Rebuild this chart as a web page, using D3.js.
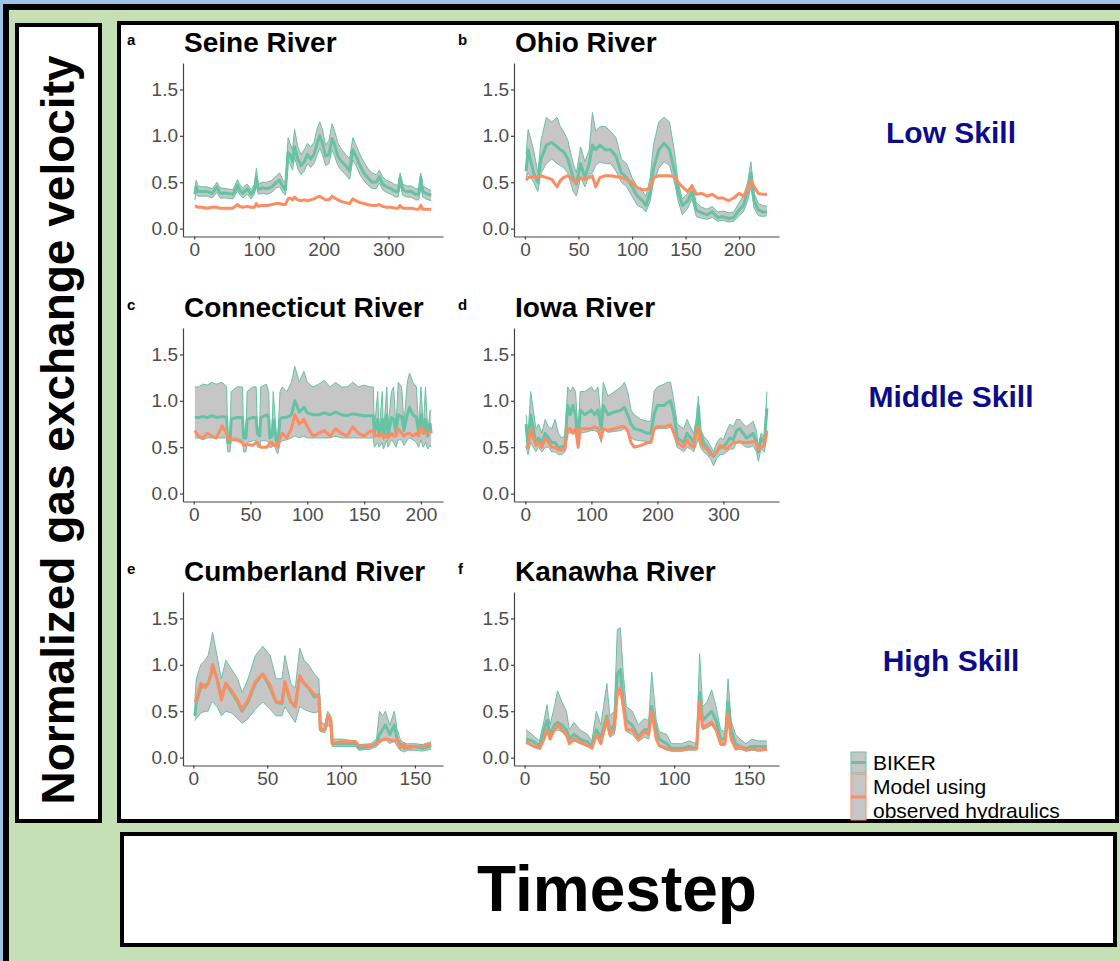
<!DOCTYPE html>
<html>
<head>
<meta charset="utf-8">
<script src="https://cdn.jsdelivr.net/npm/d3@7"></script>
<style>
    body { margin: 0; background: #9dc3e6; }
    svg { display: block; }
</style>
</head>
<body>
<div id="figure"></div>
<script>
'use strict';

// ---- data ----
const rivers = ['Seine River', 'Ohio River', 'Connecticut River', 'Iowa River', 'Cumberland River', 'Kanawha River'];
const tags = ['a', 'b', 'c', 'd', 'e', 'f'];
const skills = ['Low Skill', 'Middle Skill', 'High Skill'];
const legendLabels = ['BIKER', 'Model using', 'observed hydraulics'];
const yTicks = [0, 0.5, 1.0, 1.5];
const xTicks = [
    [0, 100, 200, 300],
    [0, 50, 100, 150, 200],
    [0, 50, 100, 150, 200],
    [0, 100, 200, 300],
    [0, 50, 100, 150],
    [0, 50, 100, 150]
];

// Seine
const seineT = [1,3,6,12,20,28,35,40,50,60,67,70,75,82,88,93,96,99,105,112,120,127,132,137,141,145,148,152,155,160,165,170,175,180,185,190,194,198,203,208,213,217,222,228,234,240,245,250,256,262,268,275,281,286,291,297,304,311,315,318,322,328,335,342,347,350,353,358,366];
const seineMid = [0.37,0.45,0.4,0.4,0.4,0.38,0.45,0.38,0.38,0.37,0.47,0.42,0.38,0.43,0.37,0.42,0.55,0.42,0.44,0.43,0.45,0.5,0.52,0.45,0.42,0.82,0.8,0.72,0.88,0.75,0.68,0.72,0.8,0.75,0.8,0.92,1.0,0.92,0.78,0.8,0.97,0.9,0.78,0.72,0.68,0.62,0.85,0.78,0.68,0.6,0.55,0.5,0.5,0.56,0.48,0.45,0.43,0.4,0.4,0.55,0.42,0.4,0.4,0.37,0.37,0.55,0.4,0.38,0.36];
const seineHi = [0.43,0.52,0.46,0.45,0.45,0.43,0.5,0.44,0.43,0.42,0.53,0.48,0.44,0.48,0.42,0.47,0.65,0.48,0.5,0.5,0.52,0.57,0.6,0.52,0.5,0.98,0.92,0.85,1.07,0.88,0.8,0.85,0.92,0.88,0.93,1.08,1.15,1.07,0.9,0.95,1.13,1.05,0.92,0.85,0.8,0.75,0.98,0.9,0.8,0.72,0.65,0.6,0.58,0.63,0.56,0.52,0.5,0.47,0.47,0.6,0.48,0.46,0.46,0.43,0.43,0.6,0.46,0.44,0.41];
const seineLo = [0.31,0.37,0.35,0.35,0.35,0.33,0.39,0.33,0.33,0.32,0.41,0.37,0.33,0.37,0.32,0.37,0.47,0.37,0.38,0.37,0.39,0.44,0.45,0.39,0.36,0.72,0.7,0.63,0.77,0.65,0.58,0.62,0.7,0.66,0.7,0.8,0.87,0.8,0.68,0.7,0.85,0.78,0.68,0.62,0.58,0.53,0.74,0.68,0.58,0.52,0.47,0.43,0.43,0.49,0.42,0.39,0.37,0.34,0.34,0.48,0.36,0.34,0.34,0.31,0.31,0.48,0.34,0.32,0.3];
const seineModel = [0.24,0.24,0.23,0.23,0.22,0.23,0.23,0.22,0.22,0.22,0.26,0.24,0.23,0.24,0.23,0.23,0.27,0.24,0.25,0.25,0.26,0.27,0.27,0.26,0.26,0.32,0.33,0.31,0.34,0.31,0.3,0.31,0.3,0.31,0.32,0.34,0.35,0.33,0.31,0.31,0.35,0.33,0.31,0.29,0.28,0.27,0.32,0.3,0.28,0.27,0.26,0.25,0.25,0.26,0.24,0.23,0.23,0.22,0.22,0.25,0.22,0.22,0.22,0.21,0.21,0.25,0.21,0.21,0.21];

// Ohio
const ohioT = [1,3,8,12,15,20,25,30,33,36,40,45,48,52,56,60,63,66,70,75,80,85,90,95,100,105,110,113,117,120,125,130,135,140,143,147,152,156,160,165,170,175,180,185,190,195,200,204,208,211,214,218,222,226];
const ohioMid = [0.62,0.85,0.6,0.5,0.75,0.9,0.93,0.88,0.85,0.83,0.75,0.55,0.48,0.7,0.55,0.7,0.9,0.85,0.9,0.85,0.85,0.78,0.6,0.55,0.45,0.35,0.3,0.25,0.4,0.65,0.85,0.92,0.85,0.6,0.4,0.25,0.3,0.4,0.2,0.17,0.15,0.18,0.12,0.13,0.11,0.12,0.2,0.25,0.4,0.6,0.3,0.2,0.18,0.18];
const ohioHi = [0.8,1.07,0.85,0.6,0.95,1.2,1.15,1.2,1.1,1.05,0.95,0.7,0.6,0.88,0.72,0.85,1.25,1.05,1.1,1.1,1.05,0.98,0.75,0.7,0.55,0.45,0.4,0.35,0.55,0.9,1.15,1.2,1.15,0.8,0.5,0.32,0.38,0.48,0.28,0.23,0.21,0.24,0.18,0.19,0.17,0.18,0.28,0.35,0.5,0.72,0.38,0.27,0.25,0.24];
const ohioLo = [0.55,0.6,0.5,0.4,0.6,0.7,0.75,0.7,0.68,0.66,0.6,0.4,0.35,0.55,0.45,0.58,0.6,0.68,0.72,0.7,0.7,0.62,0.5,0.45,0.35,0.25,0.22,0.18,0.3,0.5,0.65,0.72,0.68,0.48,0.3,0.15,0.22,0.32,0.13,0.11,0.1,0.12,0.08,0.09,0.07,0.08,0.14,0.18,0.3,0.45,0.22,0.14,0.13,0.14];
const ohioModel = [0.52,0.55,0.56,0.55,0.57,0.55,0.53,0.45,0.52,0.55,0.57,0.52,0.5,0.55,0.53,0.55,0.57,0.45,0.55,0.57,0.57,0.56,0.55,0.53,0.5,0.44,0.42,0.42,0.44,0.55,0.57,0.57,0.57,0.56,0.5,0.45,0.4,0.46,0.37,0.38,0.35,0.37,0.33,0.33,0.3,0.33,0.38,0.35,0.42,0.52,0.45,0.38,0.37,0.37];

// Connecticut
const connT = [1,4,8,12,16,20,25,29,30,32,33,38,43,44,46,47,52,55,56,58,59,64,66,67,69,70,73,74,76,78,82,86,89,93,97,100,105,110,115,120,125,130,135,140,145,150,155,158,159,162,163,166,167,170,171,174,176,178,180,183,185,188,190,193,196,198,200,202,204,206,208,209];
const connLo = [0.6,0.6,0.58,0.6,0.6,0.6,0.6,0.6,0.45,0.45,0.6,0.6,0.57,0.45,0.45,0.55,0.57,0.57,0.5,0.5,0.57,0.57,0.55,0.5,0.5,0.55,0.45,0.43,0.55,0.57,0.58,0.6,0.62,0.6,0.62,0.6,0.6,0.6,0.6,0.6,0.62,0.6,0.6,0.6,0.6,0.6,0.6,0.6,0.5,0.55,0.5,0.55,0.48,0.58,0.5,0.58,0.55,0.5,0.58,0.58,0.52,0.58,0.6,0.58,0.55,0.5,0.58,0.5,0.55,0.48,0.52,0.5];
const connMid = [0.82,0.82,0.83,0.82,0.84,0.82,0.83,0.82,0.55,0.55,0.8,0.82,0.82,0.6,0.6,0.8,0.82,0.82,0.65,0.62,0.82,0.85,0.82,0.6,0.62,0.8,0.55,0.52,0.8,0.82,0.82,0.85,1.0,0.88,0.93,0.87,0.85,0.85,0.87,0.85,0.88,0.85,0.84,0.86,0.85,0.84,0.84,0.84,0.65,0.8,0.62,0.8,0.6,0.85,0.62,0.82,0.8,0.65,0.85,0.83,0.68,0.85,0.93,0.85,0.82,0.65,0.85,0.65,0.8,0.62,0.75,0.65];
const connHi = [1.15,1.15,1.18,1.17,1.2,1.18,1.2,1.15,0.6,0.6,1.1,1.15,1.15,0.62,0.62,1.1,1.15,1.15,0.7,0.7,1.15,1.18,1.1,0.65,0.7,1.1,0.6,0.6,1.1,1.15,1.1,1.2,1.37,1.2,1.32,1.2,1.15,1.18,1.22,1.15,1.2,1.15,1.15,1.2,1.15,1.17,1.15,1.15,0.7,1.1,0.65,1.1,0.65,1.15,0.7,1.1,1.15,0.7,1.2,1.15,0.75,1.2,1.3,1.2,1.15,0.7,1.15,0.7,1.15,0.65,0.9,0.9];
const connModel = [0.68,0.62,0.6,0.65,0.62,0.6,0.73,0.65,0.6,0.58,0.58,0.58,0.55,0.52,0.52,0.53,0.52,0.55,0.55,0.52,0.5,0.5,0.52,0.55,0.55,0.52,0.52,0.5,0.6,0.65,0.6,0.7,0.85,0.75,0.8,0.72,0.62,0.65,0.68,0.62,0.7,0.65,0.62,0.72,0.65,0.62,0.67,0.68,0.62,0.63,0.62,0.65,0.6,0.63,0.6,0.65,0.62,0.62,0.7,0.65,0.62,0.65,0.65,0.62,0.65,0.62,0.72,0.68,0.65,0.65,0.67,0.66];

// Iowa
const iowaT = [1,4,8,12,16,20,25,30,35,40,45,50,55,60,64,68,72,76,80,83,90,100,105,110,115,118,125,135,145,150,155,160,165,175,185,190,195,200,210,215,220,225,230,240,245,250,255,260,262,265,270,275,280,285,290,295,300,305,310,315,320,325,330,335,340,345,350,353,357,362,366];
const iowaLo = [0.5,0.42,0.55,0.5,0.45,0.5,0.45,0.5,0.5,0.45,0.45,0.42,0.42,0.45,0.65,0.65,0.68,0.66,0.5,0.65,0.66,0.68,0.68,0.66,0.55,0.7,0.66,0.67,0.68,0.7,0.66,0.6,0.58,0.57,0.56,0.56,0.68,0.7,0.7,0.7,0.72,0.65,0.5,0.45,0.5,0.48,0.45,0.55,0.6,0.5,0.45,0.42,0.38,0.3,0.38,0.42,0.42,0.45,0.48,0.48,0.55,0.55,0.52,0.5,0.5,0.52,0.45,0.35,0.48,0.45,0.65];
const iowaMid = [0.75,0.5,0.85,0.7,0.55,0.6,0.55,0.65,0.6,0.55,0.55,0.5,0.5,0.52,0.95,0.85,0.95,0.85,0.55,0.9,0.85,0.9,0.85,0.9,0.7,0.95,0.85,0.88,0.9,0.93,0.85,0.75,0.7,0.68,0.65,0.65,0.85,0.95,0.95,0.98,1.0,0.85,0.6,0.55,0.65,0.6,0.55,0.75,0.95,0.65,0.55,0.5,0.45,0.4,0.45,0.5,0.5,0.55,0.6,0.58,0.68,0.7,0.65,0.6,0.62,0.65,0.55,0.45,0.6,0.55,0.92];
const iowaHi = [0.85,0.6,1.1,0.9,0.7,0.75,0.65,0.8,0.72,0.7,0.8,0.65,0.6,0.62,1.15,1.1,1.15,1.1,0.6,1.1,1.1,1.15,1.1,1.15,0.8,1.2,1.05,1.1,1.15,1.2,1.1,0.9,0.85,0.8,0.78,0.78,1.1,1.15,1.18,1.2,1.2,1.0,0.75,0.7,0.8,0.72,0.65,0.85,1.05,0.7,0.62,0.58,0.52,0.45,0.55,0.6,0.58,0.68,0.75,0.72,0.8,0.8,0.75,0.72,0.75,0.78,0.68,0.5,0.65,0.62,1.1];
const iowaModel = [0.52,0.5,0.7,0.6,0.52,0.55,0.5,0.6,0.55,0.5,0.5,0.47,0.47,0.48,0.7,0.7,0.65,0.7,0.5,0.7,0.7,0.7,0.72,0.7,0.6,0.7,0.68,0.7,0.72,0.72,0.68,0.55,0.5,0.52,0.55,0.55,0.7,0.72,0.72,0.73,0.74,0.65,0.55,0.5,0.58,0.52,0.5,0.7,0.72,0.55,0.5,0.48,0.42,0.42,0.45,0.52,0.5,0.48,0.52,0.55,0.55,0.56,0.55,0.55,0.55,0.56,0.55,0.47,0.5,0.52,0.68];

// Cumberland
const cumbT = [1,2,5,8,10,12,13,16,19,22,26,30,33,37,42,47,52,56,60,62,66,69,72,75,78,82,85,86,89,91,93,94,100,105,110,112,120,124,126,128,130,133,136,138,140,143,145,150,155,161];
const cumbLo = [0.4,0.42,0.48,0.5,0.5,0.58,0.6,0.55,0.45,0.5,0.48,0.42,0.37,0.42,0.52,0.6,0.52,0.45,0.45,0.55,0.45,0.38,0.55,0.52,0.5,0.48,0.5,0.28,0.27,0.35,0.33,0.12,0.12,0.12,0.12,0.08,0.09,0.12,0.15,0.18,0.2,0.15,0.18,0.12,0.08,0.06,0.08,0.08,0.07,0.09];
const cumbMid = [0.45,0.6,0.75,0.78,0.8,0.9,1.0,0.85,0.65,0.8,0.7,0.6,0.5,0.6,0.8,0.9,0.75,0.6,0.58,0.8,0.6,0.55,0.88,0.8,0.75,0.65,0.68,0.3,0.3,0.45,0.4,0.15,0.15,0.15,0.15,0.1,0.12,0.15,0.25,0.3,0.35,0.25,0.35,0.2,0.15,0.1,0.12,0.12,0.1,0.13];
const cumbHi = [0.6,0.85,1.0,1.05,1.1,1.25,1.35,1.1,0.85,1.05,0.95,0.85,0.7,0.85,1.1,1.2,1.1,0.85,0.85,1.1,0.8,0.75,1.18,1.05,1.0,0.9,0.85,0.4,0.35,0.5,0.45,0.2,0.2,0.19,0.18,0.14,0.15,0.2,0.5,0.45,0.5,0.35,0.5,0.3,0.2,0.15,0.15,0.15,0.14,0.17];
const cumbModel = [0.6,0.62,0.8,0.75,0.8,0.9,1.0,0.85,0.62,0.8,0.72,0.62,0.52,0.62,0.82,0.9,0.78,0.6,0.6,0.82,0.6,0.55,0.88,0.8,0.75,0.68,0.65,0.3,0.3,0.45,0.42,0.15,0.17,0.17,0.17,0.12,0.13,0.15,0.18,0.19,0.2,0.19,0.18,0.2,0.1,0.15,0.1,0.12,0.12,0.15];

// Kanawha
const kanT = [1,5,10,13,15,17,20,22,25,28,30,33,37,42,45,48,51,55,57,60,62,64,66,68,72,76,80,83,85,88,90,95,98,100,105,110,115,117,119,122,125,128,131,134,136,138,141,144,148,152,156,162];
const kanLo = [0.15,0.13,0.1,0.2,0.28,0.2,0.28,0.3,0.28,0.22,0.15,0.18,0.15,0.12,0.1,0.22,0.15,0.35,0.22,0.25,0.65,0.7,0.5,0.28,0.25,0.17,0.22,0.2,0.45,0.2,0.12,0.08,0.07,0.07,0.07,0.08,0.08,0.55,0.3,0.32,0.35,0.28,0.13,0.13,0.42,0.2,0.08,0.09,0.07,0.08,0.07,0.08];
const kanMid = [0.2,0.18,0.13,0.3,0.4,0.25,0.35,0.38,0.35,0.3,0.2,0.25,0.2,0.17,0.13,0.3,0.22,0.45,0.3,0.35,0.9,0.95,0.6,0.4,0.35,0.22,0.3,0.3,0.55,0.3,0.2,0.15,0.1,0.1,0.1,0.12,0.1,0.7,0.4,0.45,0.5,0.4,0.2,0.2,0.6,0.3,0.15,0.12,0.1,0.12,0.12,0.12];
const kanHi = [0.3,0.25,0.18,0.4,0.57,0.35,0.55,0.72,0.6,0.5,0.3,0.38,0.3,0.25,0.18,0.5,0.35,0.8,0.45,0.5,1.38,1.4,0.9,0.55,0.5,0.35,0.42,0.4,0.92,0.4,0.28,0.25,0.15,0.15,0.15,0.18,0.15,1.12,0.55,0.6,0.73,0.55,0.3,0.28,0.85,0.4,0.25,0.2,0.15,0.2,0.18,0.18];
const kanModel = [0.17,0.13,0.1,0.2,0.3,0.2,0.3,0.35,0.3,0.25,0.15,0.2,0.17,0.13,0.1,0.25,0.15,0.42,0.25,0.3,0.7,0.75,0.55,0.3,0.3,0.2,0.28,0.25,0.5,0.2,0.13,0.1,0.08,0.08,0.08,0.1,0.1,0.6,0.32,0.35,0.38,0.3,0.15,0.15,0.48,0.2,0.1,0.12,0.08,0.1,0.08,0.09];

(function () {
    const width = 1120;
    const height = 961;
    const green = '#66c2a5';
    const orange = '#fc8d62';
    const ribbonGrey = '#c6c6c6';
    const font = '"Liberation Sans", Arial, sans-serif';

    const series = [
        [seineT, seineLo, seineMid, seineHi, seineModel],
        [ohioT, ohioLo, ohioMid, ohioHi, ohioModel],
        [connT, connLo, connMid, connHi, connModel],
        [iowaT, iowaLo, iowaMid, iowaHi, iowaModel],
        [cumbT, cumbLo, cumbMid, cumbHi, cumbModel],
        [kanT, kanLo, kanMid, kanHi, kanModel]
    ];

    // panel boxes (axis lines)
    const colLeft = [183, 514];
    const colRight = [443, 779];
    const rowTop = [63, 328, 592];
    const plotH = 173.5;

    var svg = d3.select('#figure').append('svg')
        .attr('width', width)
        .attr('height', height)
        .style('font-family', font);

    // backgrounds and frames
    svg.append('rect').attr('width', width).attr('height', height).attr('fill', '#9dc3e6');
    svg.append('rect').attr('x', 6).attr('y', 7).attr('width', width).attr('height', height)
        .attr('fill', '#c5e0b4').attr('stroke', '#000').attr('stroke-width', 6);
    frame(17, 25, 83, 796);
    frame(119, 23, 998, 798);
    frame(122, 834, 993, 111);

    svg.append('text')
        .attr('transform', 'translate(74,430) rotate(-90)')
        .attr('text-anchor', 'middle')
        .attr('font-weight', 'bold')
        .attr('font-size', 46)
        .text('Normalized gas exchange velocity');

    svg.append('text')
        .attr('x', 617).attr('y', 911)
        .attr('text-anchor', 'middle')
        .attr('font-weight', 'bold')
        .attr('font-size', 64)
        .text('Timestep');

    // skill labels, one per row
    skills.forEach(function (s, i) {
        svg.append('text')
            .attr('x', 951).attr('y', 143 + i * 264)
            .attr('text-anchor', 'middle')
            .attr('font-weight', 'bold')
            .attr('font-size', 30)
            .attr('fill', '#0c0c8a')
            .text(s);
    });

    rivers.forEach(function (name, i) {
        var col = i % 2;
        var row = Math.floor(i / 2);
        drawPanel(i, colLeft[col], colRight[col], rowTop[row], rowTop[row] + plotH);
    });

    drawLegend();

    function frame(x, y, w, h) {
        svg.append('rect')
            .attr('x', x).attr('y', y).attr('width', w).attr('height', h)
            .attr('fill', '#fff').attr('stroke', '#000').attr('stroke-width', 4);
    }

    function drawPanel(i, left, right, top, bottom) {
        var s = series[i];
        var t = s[0];
        var rows = t.map(function (d, k) {
            return { t: d, lo: s[1][k], mid: s[2][k], hi: s[3][k], model: s[4][k] };
        });

        var ext = d3.extent(t);
        var pad = (ext[1] - ext[0]) * 0.05;
        var x = d3.scaleLinear().domain([ext[0] - pad, ext[1] + pad]).range([left, right]);
        var y = d3.scaleLinear().domain([-0.085, 1.785]).range([bottom, top]);

        var g = svg.append('g');

        g.append('text')
            .attr('x', left - 56).attr('y', top - 18)
            .attr('font-weight', 'bold').attr('font-size', 15)
            .text(tags[i]);
        g.append('text')
            .attr('x', left + 1).attr('y', top - 11)
            .attr('font-weight', 'bold').attr('font-size', 28)
            .text(rivers[i]);

        var area = d3.area()
            .x(function (d) { return x(d.t); })
            .y0(function (d) { return y(d.lo); })
            .y1(function (d) { return y(d.hi); });
        var line = function (key) {
            return d3.line()
                .x(function (d) { return x(d.t); })
                .y(function (d) { return y(d[key]); });
        };

        g.append('path').datum(rows).attr('d', area).attr('fill', ribbonGrey);
        ['lo', 'hi'].forEach(function (k) {
            g.append('path').datum(rows).attr('d', line(k))
                .attr('fill', 'none').attr('stroke', green).attr('stroke-width', 1);
        });
        g.append('path').datum(rows).attr('d', line('mid'))
            .attr('fill', 'none').attr('stroke', green).attr('stroke-width', 3)
            .attr('stroke-linejoin', 'round');
        g.append('path').datum(rows).attr('d', line('model'))
            .attr('fill', 'none').attr('stroke', orange).attr('stroke-width', 3)
            .attr('stroke-linejoin', 'round');

        // axes
        var yAxis = g.append('g')
            .attr('transform', 'translate(' + left + ',0)')
            .call(d3.axisLeft(y).tickValues(yTicks).tickFormat(d3.format('.1f'))
                .tickSize(3).tickSizeOuter(0).tickPadding(2));
        var xAxis = g.append('g')
            .attr('transform', 'translate(0,' + bottom + ')')
            .call(d3.axisBottom(x).tickValues(xTicks[i])
                .tickSize(3).tickSizeOuter(0).tickPadding(3));
        [yAxis, xAxis].forEach(function (a) {
            a.selectAll('path, line').attr('stroke', '#444').attr('stroke-width', 1.2);
            a.selectAll('text').attr('fill', '#4d4d4d').attr('font-size', 19)
                .style('font-family', font);
        });
    }

    function drawLegend() {
        var lg = svg.append('g');
        var keys = [
            { y: 752, h: 21, color: green },
            { y: 774, h: 46, color: orange }
        ];
        keys.forEach(function (k) {
            lg.append('rect')
                .attr('x', 851).attr('y', k.y).attr('width', 15).attr('height', k.h)
                .attr('fill', ribbonGrey).attr('stroke', k.color).attr('stroke-width', 1);
            lg.append('line')
                .attr('x1', 851).attr('x2', 866)
                .attr('y1', k.y + k.h / 2).attr('y2', k.y + k.h / 2)
                .attr('stroke', k.color).attr('stroke-width', 3);
        });
        // legend text is tight, keep lines clear of each other
        legendLabels.forEach(function (txt, i) {
            lg.append('text')
                .attr('x', 873).attr('y', 770 + i * 24)
                .attr('font-size', 21)
                .text(txt);
        });
    }
})();
</script>
</body>
</html>
